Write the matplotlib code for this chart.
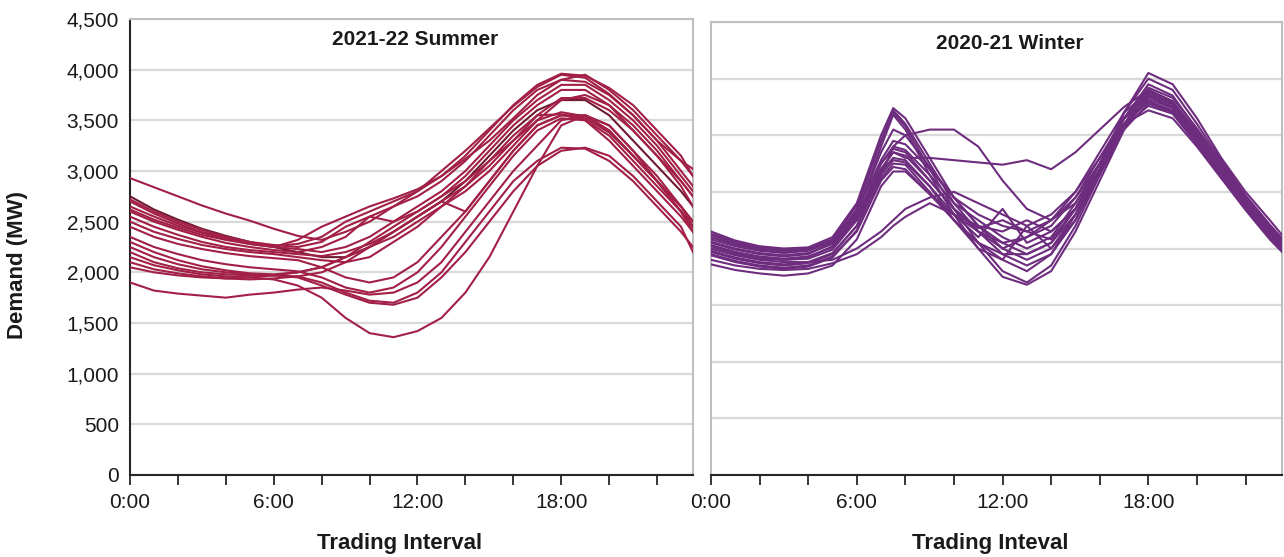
import matplotlib
matplotlib.use("Agg")
import matplotlib.pyplot as plt
from matplotlib.ticker import FuncFormatter, MultipleLocator

plt.rcParams['font.family'] = ['Liberation Sans', 'DejaVu Sans']

# godziny (summer: co godzine, winter: dodatkowo 7:30)
hours_summer = [0, 1, 2, 3, 4, 5, 6, 7, 8, 9, 10, 11, 12, 13, 14, 15, 16,
                17, 18, 19, 20, 21, 22, 23, 23.5]
hours_winter = [0, 1, 2, 3, 4, 5, 6, 7, 7.5, 8, 9, 10, 11, 12, 13, 14, 15,
                16, 17, 18, 19, 20, 21, 22, 23, 23.5]

summer_days = [
    [2930, 2840, 2750, 2660, 2580, 2510, 2430, 2360, 2320, 2400, 2500, 2650, 2800, 3000, 3200, 3420, 3640, 3830, 3950, 3920, 3760, 3550, 3300, 3100, 3020],
    [2750, 2620, 2520, 2430, 2360, 2300, 2250, 2200, 2150, 2150, 2250, 2400, 2550, 2700, 2900, 3150, 3400, 3600, 3700, 3700, 3550, 3300, 3050, 2800, 2650],
    [2700, 2580, 2480, 2400, 2340, 2290, 2260, 2280, 2350, 2500, 2600, 2700, 2800, 2950, 3120, 3300, 3520, 3750, 3900, 3950, 3800, 3600, 3350, 3100, 2950],
    [2650, 2550, 2460, 2390, 2330, 2280, 2250, 2320, 2450, 2550, 2650, 2730, 2820, 2950, 3150, 3400, 3650, 3850, 3960, 3940, 3820, 3650, 3400, 3150, 2950],
    [2600, 2500, 2420, 2350, 2290, 2250, 2220, 2200, 2250, 2350, 2550, 2500, 2600, 2750, 2950, 3200, 3450, 3650, 3800, 3800, 3650, 3400, 3150, 2900, 2750],
    [2550, 2450, 2370, 2300, 2250, 2220, 2200, 2180, 2160, 2200, 2280, 2400, 2550, 2700, 2600, 2900, 3200, 3450, 3550, 3550, 3400, 3150, 2900, 2650, 2500],
    [2500, 2400, 2330, 2270, 2230, 2200, 2180, 2150, 2120, 2100, 2150, 2300, 2450, 2650, 2850, 3100, 3350, 3550, 3560, 3500, 3300, 3050, 2800, 2550, 2400],
    [2450, 2350, 2280, 2230, 2190, 2160, 2140, 2120, 2050, 1950, 1900, 1950, 2100, 2350, 2600, 2900, 3200, 3450, 3550, 3520, 3380, 3150, 2900, 2650, 2500],
    [2350, 2250, 2180, 2120, 2080, 2050, 2030, 2010, 1950, 1850, 1800, 1850, 2000, 2250, 2550, 2850, 3150, 3400, 3520, 3500, 3350, 3100, 2850, 2600, 2450],
    [2300, 2200, 2120, 2060, 2020, 1990, 1980, 2000, 2050, 2150, 2300, 2450, 2600, 2750, 2900, 3100, 3300, 3500, 3580, 3540, 3400, 3150, 2900, 2600, 2400],
    [2250, 2150, 2080, 2030, 2000, 1980, 1970, 1960, 1900, 1800, 1720, 1700, 1800, 2000, 2300, 2600, 2900, 3100, 3230, 3220, 3100, 2900, 2650, 2400, 2250],
    [2200, 2100, 2040, 2000, 1980, 1970, 1970, 1950, 1870, 1780, 1700, 1680, 1750, 1950, 2200, 2500, 2800, 3050, 3200, 3230, 3150, 2950, 2700, 2450, 2200],
    [2150, 2070, 2020, 1980, 1960, 1950, 1930, 1870, 1750, 1550, 1400, 1360, 1420, 1550, 1800, 2150, 2600, 3050, 3450, 3550, 3450, 3200, 2950, 2650, 2450],
    [1900, 1820, 1790, 1770, 1750, 1780, 1800, 1830, 1850, 1820, 1780, 1800, 1900, 2100, 2400, 2700, 3000, 3250, 3500, 3550, 3450, 3200, 2900, 2600, 2400],
    [2100, 2030, 1990, 1960, 1940, 1930, 1940, 1960, 2000, 2100, 2250, 2400, 2550, 2700, 2850, 3050, 3300, 3550, 3720, 3720, 3600, 3400, 3150, 2850, 2650],
    [2720, 2600, 2500, 2420, 2350, 2300, 2270, 2250, 2300, 2450, 2550, 2650, 2750, 2900, 3100, 3350, 3600, 3800, 3900, 3880, 3750, 3550, 3300, 3000, 2850],
    [2050, 2000, 1970, 1950, 1940, 1950, 1970, 2000, 2050, 2150, 2250, 2350, 2500, 2650, 2800, 3000, 3250, 3500, 3700, 3750, 3650, 3450, 3200, 2900, 2750],
    [2620, 2520, 2440, 2370, 2320, 2280, 2250, 2230, 2200, 2250, 2350, 2500, 2650, 2800, 3000, 3250, 3500, 3700, 3850, 3850, 3700, 3500, 3250, 2950, 2800],
]

winter_days = [
    [2150, 2070, 2020, 2000, 2010, 2100, 2400, 3000, 3240, 3150, 2800, 2450, 2200, 2000, 1900, 2000, 2300, 2700, 3150, 3450, 3350, 3050, 2750, 2450, 2200, 2080],
    [2100, 2030, 1990, 1970, 1990, 2080, 2380, 2950, 3220, 3100, 2750, 2400, 2150, 1950, 1850, 1950, 2250, 2700, 3200, 3550, 3450, 3150, 2800, 2500, 2250, 2120],
    [2050, 1990, 1950, 1930, 1950, 2050, 2350, 2950, 3200, 3080, 2700, 2350, 2050, 1800, 1700, 1850, 2200, 2650, 3100, 3400, 3300, 3000, 2700, 2400, 2150, 2030],
    [2000, 1950, 1910, 1900, 1920, 2020, 2300, 2900, 3180, 3050, 2650, 2300, 2000, 1750, 1680, 1800, 2150, 2600, 3050, 3350, 3250, 2980, 2680, 2380, 2120, 2000],
    [2100, 2040, 2000, 1980, 1990, 2050, 2250, 2650, 2900, 3000, 3050, 3050, 2900, 2600, 2350, 2250, 2400, 2750, 3150, 3420, 3330, 3060, 2760, 2460, 2200, 2080],
    [2080, 2020, 1980, 1960, 1980, 2060, 2300, 2700, 2850, 2800, 2800, 2780, 2760, 2740, 2780, 2700, 2850, 3050, 3250, 3400, 3300, 3030, 2730, 2430, 2180, 2060],
    [2130, 2060, 2010, 1990, 2000, 2080, 2330, 2780, 2950, 2920, 2700, 2450, 2300, 2200, 2150, 2250, 2500, 2850, 3200, 3380, 3280, 3000, 2700, 2400, 2150, 2040],
    [2020, 1960, 1920, 1900, 1910, 1990, 2250, 2700, 2850, 2820, 2600, 2350, 2150, 2000, 2100, 2200, 2450, 2800, 3150, 3340, 3250, 2970, 2680, 2390, 2130, 2020],
    [1980, 1920, 1880, 1860, 1880, 1960, 2200, 2650, 2780, 2760, 2550, 2300, 2100, 2350, 2050, 2150, 2350, 2700, 3100, 3300, 3220, 2950, 2650, 2370, 2120, 2000],
    [1950, 1890, 1850, 1830, 1850, 1930, 2150, 2600, 2720, 2700, 2480, 2250, 2050, 1900, 2200, 2000, 2250, 2650, 3050, 3280, 3200, 2930, 2640, 2350, 2100, 1990],
    [2000, 1940, 1900, 1880, 1880, 1900, 2000, 2150, 2250, 2350, 2450, 2500, 2400, 2300, 2200, 2300, 2500, 2800, 3150, 3300, 3200, 2930, 2650, 2360, 2100, 1990],
    [1900, 1850, 1820, 1810, 1820, 1870, 1950, 2100, 2200, 2280, 2400, 2300, 2150, 2050, 2100, 2250, 2450, 2750, 3100, 3220, 3150, 2900, 2620, 2340, 2080, 1970],
    [2060, 2000, 1960, 1940, 1960, 2040, 2280, 2750, 2900, 2870, 2650, 2400, 2250, 2100, 2000, 2100, 2400, 2750, 3150, 3360, 3270, 2990, 2700, 2400, 2140, 2030],
    [1970, 1910, 1870, 1850, 1870, 1950, 2200, 2680, 2800, 2780, 2550, 2250, 2000, 1900, 1800, 1950, 2300, 2700, 3100, 3320, 3240, 2960, 2670, 2380, 2120, 2010],
    [2030, 1970, 1930, 1910, 1930, 2010, 2260, 2750, 2880, 2850, 2600, 2350, 2180, 2250, 2150, 2080, 2350, 2750, 3150, 3380, 3290, 3010, 2710, 2410, 2160, 2050],
    [1940, 1880, 1840, 1820, 1840, 1920, 2160, 2620, 2750, 2740, 2500, 2250, 2050, 1950, 1950, 2050, 2300, 2680, 3080, 3260, 3190, 2920, 2630, 2350, 2090, 1980],
    [2120, 2050, 2010, 1990, 2000, 2070, 2320, 2850, 3050, 3000, 2720, 2450, 2200, 2050, 1950, 2050, 2350, 2750, 3200, 3500, 3400, 3100, 2780, 2470, 2210, 2090],
    [1860, 1810, 1780, 1760, 1780, 1850, 2080, 2550, 2680, 2680, 2480, 2300, 2200, 2150, 2250, 2150, 2350, 2700, 3100, 3300, 3210, 2940, 2650, 2360, 2100, 1980],
]

summer_title = '2021-22 Summer'
winter_title = '2020-21 Winter'
summer_xlabel = 'Trading Interval'
winter_xlabel = 'Trading Inteval'
ylabel = 'Demand (MW)'

summer_color = '#A21F47'
winter_color = '#6E2C7E'
grid_color = '#D9D9D9'
frame_color = '#BFBFBF'
text_color = '#1A1A1A'

W, H = 1284, 557
fig = plt.figure(figsize=(W / 100, H / 100), dpi=100)
ax1 = fig.add_axes([130 / W, (H - 475) / H, (693 - 130) / W, (475 - 19) / H])
ax2 = fig.add_axes([711 / W, (H - 475) / H, (1282 - 711) / W, (475 - 22) / H])

time_fmt = FuncFormatter(lambda v, p: '%d:00' % v)


def style_axis(ax, ymax, show_y):
    ax.set_xlim(0, 23.5)
    ax.set_ylim(0, ymax)
    ax.yaxis.set_major_locator(MultipleLocator(500))
    ax.xaxis.set_major_locator(MultipleLocator(6))
    ax.xaxis.set_minor_locator(MultipleLocator(2))
    ax.xaxis.set_major_formatter(time_fmt)
    ax.grid(axis='y', color=grid_color, lw=1.6, zorder=0)
    ax.set_axisbelow(True)
    for s in ['top', 'right']:
        ax.spines[s].set_color(frame_color)
        ax.spines[s].set_linewidth(1.5)
    ax.spines['bottom'].set_color('#262626')
    ax.spines['bottom'].set_linewidth(1.5)
    if show_y:
        ax.spines['left'].set_color('#262626')
    else:
        ax.spines['left'].set_color(frame_color)
    ax.spines['left'].set_linewidth(1.5)
    ax.tick_params(axis='x', which='both', length=7, width=1.3, color='#262626',
                   labelsize=15, labelcolor=text_color, pad=6)
    ax.tick_params(axis='y', length=0, labelsize=15, labelcolor=text_color, pad=8,
                   labelleft=show_y)
    ax.yaxis.set_major_formatter(FuncFormatter(lambda v, p: '{:,.0f}'.format(v)))


for i, day in enumerate(summer_days):
    c = '#6E1A30' if i == 1 else summer_color
    ax1.plot(hours_summer, day, color=c, lw=1.5, zorder=3)
for day in winter_days:
    ax2.plot(hours_winter, day, color=winter_color, lw=1.5, zorder=3)

style_axis(ax1, 4500, True)
style_axis(ax2, 4000, False)

ax1.text(0.506, 0.955, summer_title, transform=ax1.transAxes, ha='center', va='center',
         fontsize=15, fontweight='bold', color=text_color)
ax2.text(0.524, 0.953, winter_title, transform=ax2.transAxes, ha='center', va='center',
         fontsize=15, fontweight='bold', color=text_color)

fig.text(400 / W, 1 - 543 / H, summer_xlabel, ha='center', va='center',
         fontsize=16, fontweight='bold', color=text_color)
fig.text(990 / W, 1 - 543 / H, winter_xlabel, ha='center', va='center',
         fontsize=16, fontweight='bold', color=text_color)
fig.text(18 / W, 1 - 265 / H, ylabel, rotation=90, ha='center', va='center',
         fontsize=16, fontweight='bold', color=text_color)

fig.savefig('out.png', dpi=100)
